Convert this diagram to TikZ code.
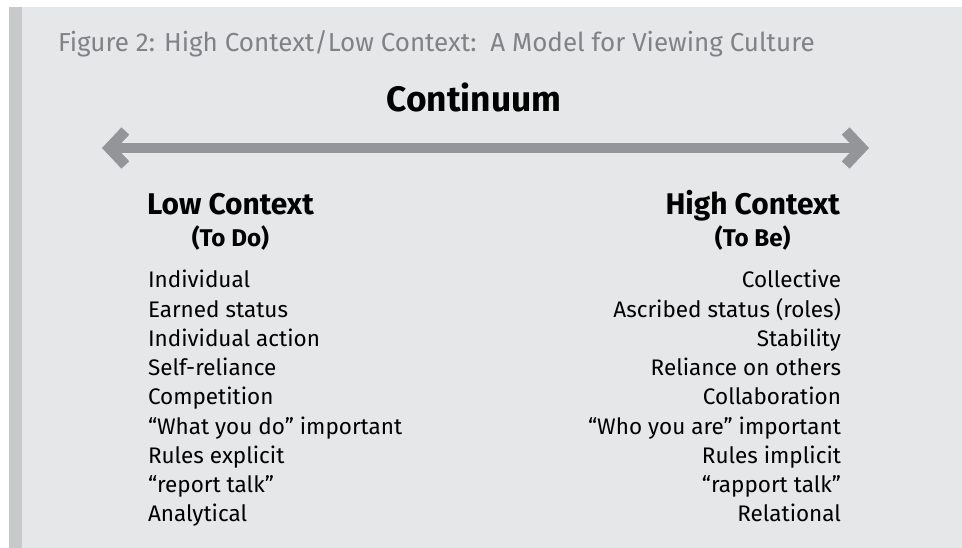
\documentclass[tikz,border=0pt]{standalone}
\usepackage{fontspec}
\setmainfont{Fira Sans}
\usepackage{tikz}
\usetikzlibrary{arrows.meta}
\definecolor{panelgray}{RGB}{230,231,232}
\definecolor{stripegray}{RGB}{200,201,203}
\definecolor{titlegray}{RGB}{128,130,133}
\definecolor{arrowgray}{RGB}{147,149,152}

\begin{document}
\begin{tikzpicture}[x=1pt, y=-1pt,
    every node/.style={inner sep=0pt, outer sep=0pt},
    figtitle/.style={text=titlegray, font=\fontsize{26}{31}\selectfont},
    bigtitle/.style={font=\bfseries\fontsize{35.3}{42}\selectfont},
    side/.style={font=\bfseries\fontsize{29.9}{35}\selectfont},
    sub/.style={font=\bfseries\fontsize{24.2}{29}\selectfont},
    item/.style={font=\fontsize{22.5}{27}\selectfont},
    scale arrow/.style={line width=10.7pt, draw=arrowgray,
        {Straight Barb[sharp, length=16pt, width=34pt]}-{Straight Barb[sharp, length=16pt, width=34pt]}}]
    \useasboundingbox (0,0) rectangle (962,548);
    \fill[white] (0,0) rectangle (962,548);
    \fill[panelgray] (9,7) rectangle (962,548);
    \fill[stripegray] (9,7) rectangle (22,548);

    \node[figtitle, anchor=base west] (title) at (58,52) {Figure 2: High Context/Low Context:\ \ A Model for Viewing Culture};
    \node[bigtitle, anchor=base] (cont) at (474,112) {Continuum};

    \coordinate (lend) at (102,148);
    \coordinate (rend) at (869,148);
    \draw[scale arrow] (lend) -- (rend);

    \node[side, anchor=base west] (low) at (147,215) {Low Context};
    \node[sub, anchor=base] (todo) at (low.base |- 0,247) {(To Do)};
    \node[side, anchor=base east] (high) at (840,215) {High Context};
    \node[sub, anchor=base] (tobe) at (high.base |- 0,247) {(To Be)};

    \foreach \t [count=\i] in {Individual, Earned status, Individual action,
        Self-reliance, Competition, “What you do” important, Rules explicit,
        “report talk”, Analytical}
    \node[item, anchor=base west] (lo\i) at (148,{288+29.2*(\i-1)}) {\t};

    \foreach \t [count=\i] in {Collective, Ascribed status (roles), Stability,
        Reliance on others, Collaboration, “Who you are” important, Rules implicit,
        “rapport talk”, Relational}
    \node[item, anchor=base east] (hi\i) at (841,{288+29.2*(\i-1)}) {\t};
\end{tikzpicture}
\end{document}
